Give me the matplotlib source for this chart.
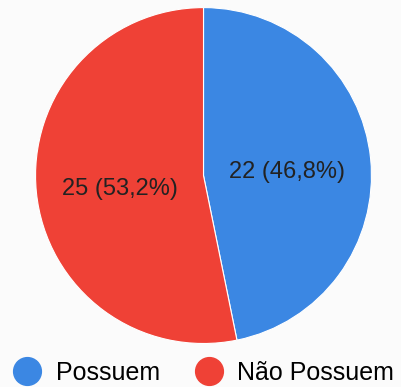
import matplotlib.pyplot as plt
from matplotlib.lines import Line2D

labels = ["Possuem", "Não Possuem"]
counts = [22, 25]
colors = ["#3b87e3", "#ef4136"]

total = sum(counts)

fig = plt.figure(figsize=(4.01, 3.87), dpi=100, facecolor="#fbfbfb")
ax = fig.add_axes([0.0885, 0.1124, 0.838, 0.868])
ax.set_facecolor("#fbfbfb")


def fmt(pct):
    n = int(round(pct * total / 100))
    return f"{n} ({pct:.1f}%)".replace(".", ",")


wedges, texts, autotexts = ax.pie(
    counts, colors=colors, startangle=90, counterclock=False,
    autopct=fmt, pctdistance=0.5, radius=1,
    wedgeprops=dict(edgecolor="white", linewidth=0.8),
    textprops=dict(fontsize=17, color="#222222", family="Liberation Sans"),
)
# nudge the value labels slightly down
for t in autotexts:
    x, y = t.get_position()
    t.set_position((x, y - 0.03))
ax.set_xlim(-1, 1)
ax.set_ylim(-1, 1)
ax.set_aspect("equal")

handles = [Line2D([], [], marker="o", linestyle="", markersize=20,
                  markerfacecolor=c, markeredgecolor=c) for c in colors]
fig.legend(handles, labels, loc="lower left", bbox_to_anchor=(-0.02, -0.052),
           ncol=2, frameon=False, handlelength=1.0, handletextpad=0.65,
           columnspacing=1.45, prop=dict(family="Liberation Sans", size=18))

fig.savefig("out.png", dpi=100, facecolor=fig.get_facecolor())
